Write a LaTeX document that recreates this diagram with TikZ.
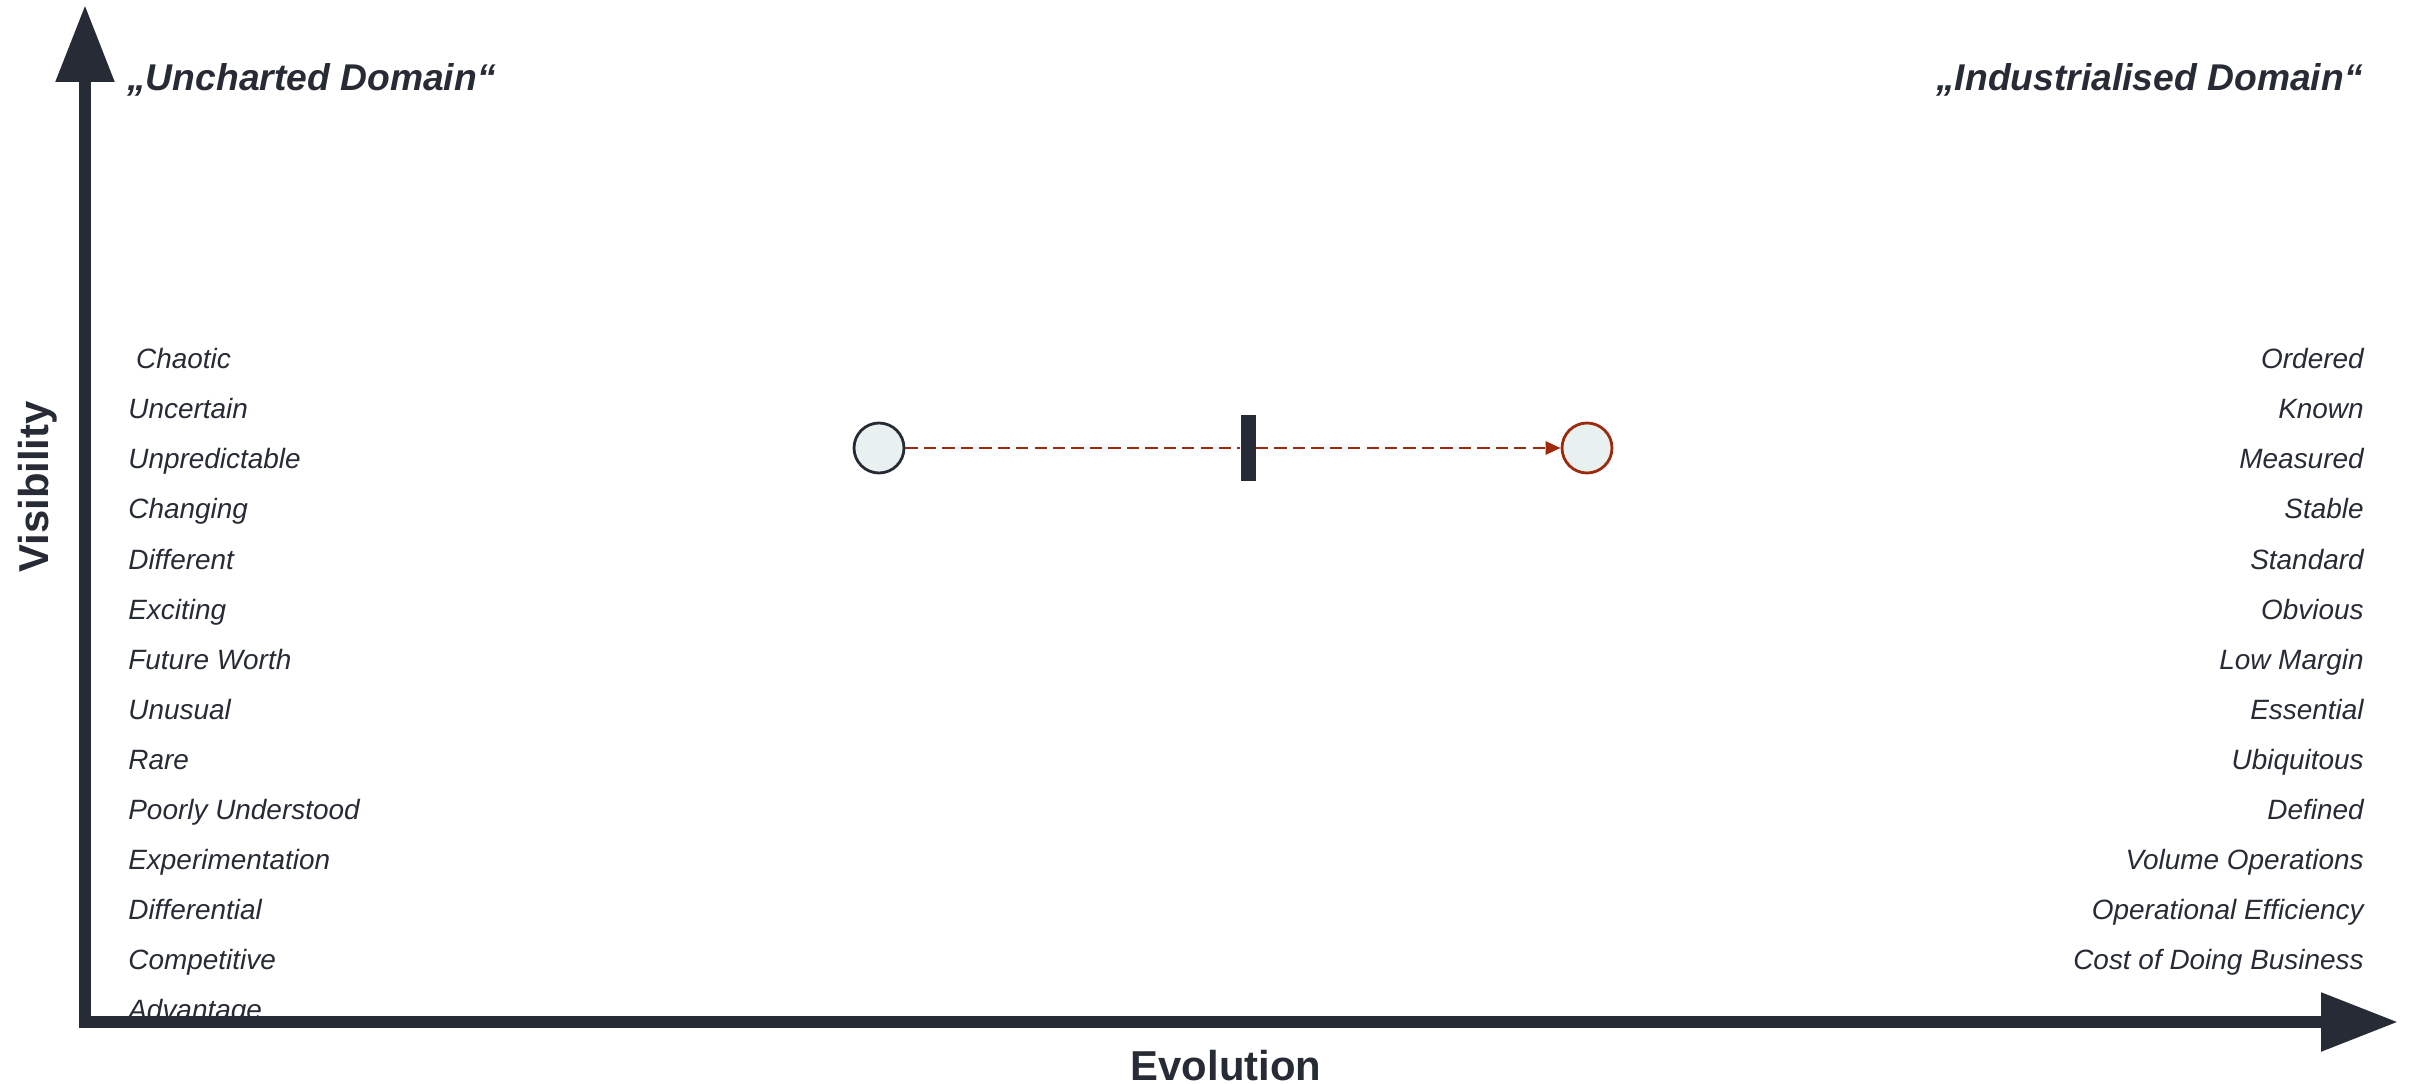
\documentclass[tikz,border=0pt]{standalone}
\usepackage{fontspec}
\setmainfont{Liberation Sans}
\usetikzlibrary{arrows.meta}
\definecolor{ink}{HTML}{262B35}
\definecolor{rust}{HTML}{9E2A0E}
\definecolor{pale}{HTML}{E9F0F0}

\begin{document}
\begin{tikzpicture}[x=0.02cm, y=-0.02cm,
                   axis/.style={draw=ink, line width=0.24cm, line cap=rect,
                   -{Triangle[length=1.54cm,width=1.12cm]}},
                   trait/.style={inner sep=0pt, text=ink,
                   font=\fontsize{15.9}{19}\selectfont\itshape},
                   realm/.style={inner sep=0pt, text=ink,
                   font=\fontsize{21.2}{25}\selectfont\bfseries\itshape},
                   axislabel/.style={inner sep=0pt, text=ink,
                   font=\fontsize{23.8}{28}\selectfont\bfseries},
                   stage/.style={circle, minimum size=1.0cm, fill=pale, line width=1.6pt},
                   move/.style={draw=rust, line width=1.7pt, dash pattern=on 7pt off 3.5pt}]
  \useasboundingbox (0,0) rectangle (2415,1084);
  \foreach \word [count=\i from 0] in {\ Chaotic, Uncertain, Unpredictable, Changing,
      Different, Exciting, Future Worth, Unusual, Rare, Poorly Understood,
      Experimentation, Differential, Competitive, Advantage}
    \node[trait, anchor=base west] (left\i) at (128,369+50*\i) {\word};
  \foreach \word [count=\i from 0] in {Ordered, Known, Measured, Stable, Standard,
      Obvious, Low Margin, Essential, Ubiquitous, Defined, Volume Operations,
      Operational Efficiency, Cost of Doing Business}
    \node[trait, anchor=base east] (right\i) at (2364,369+50*\i) {\word};
  \coordinate (origin) at (85,1022);
  \coordinate (vtip) at (85,5);
  \coordinate (htip) at (2398,1022);
  \draw[axis] (origin) -- (vtip);
  \draw[axis] (origin) -- (htip);
  \node[realm, anchor=base west] (uncharted) at (127,91) {„Uncharted Domain“};
  \node[realm, anchor=base east] (industrial) at (2363,91) {„Industrialised Domain“};
  \node[axislabel, anchor=base] (evolution) at (1226,1080) {Evolution};
  \node[axislabel, anchor=base, rotate=90] (visibility) at (49,487) {Visibility};
  \node[stage, draw=ink] (now) at (879,448) {};
  \node[fill=ink, inner sep=0pt, minimum width=0.3cm, minimum height=1.34cm] (gap) at (1248,448) {};
  \node[stage, draw=rust] (future) at (1587,448) {};
  \draw[move] (now) -- (gap);
  \draw[move, -{Triangle[length=0.3cm,width=0.26cm]}] (gap) -- (future);
\end{tikzpicture}
\end{document}
